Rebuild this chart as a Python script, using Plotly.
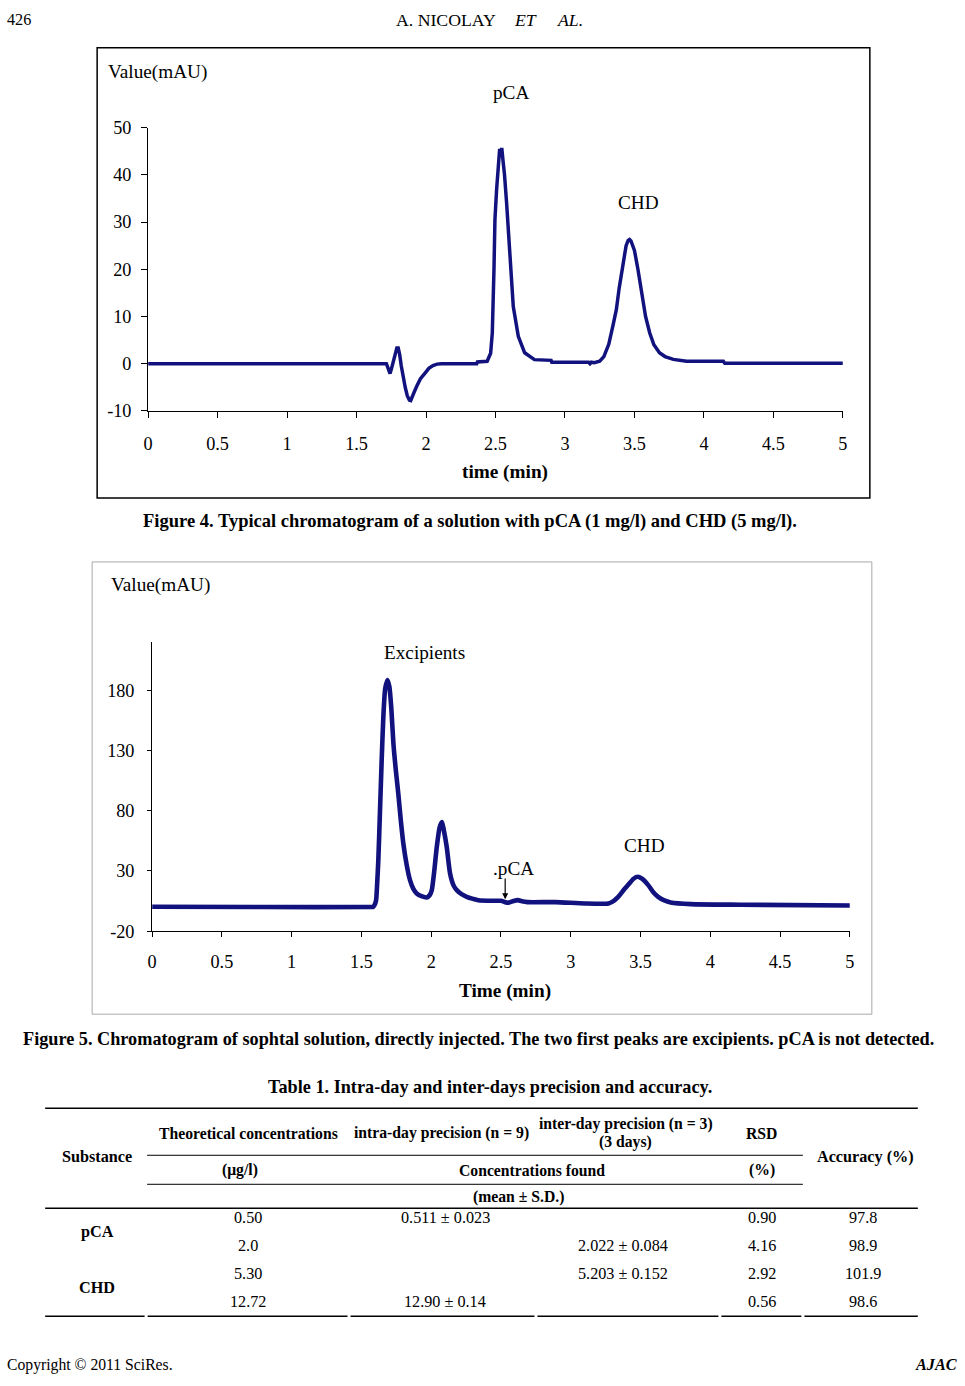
import plotly.graph_objects as go

W, H = 965, 1386
# the photographed page comes out slightly shrunk about its centre;
# these factors map intended picture pixels to figure pixels
SX, SY = 0.99, 0.985
CX, CY = W / 2, H / 2


def fx(x):
    return CX + (x - CX) / SX


def fy(y):
    return CY + (y - CY) / SY


def px(x):
    return fx(x) / W


def py(y):
    return 1 - fy(y) / H


def fs(s):
    return s / ((SX + SY) / 2)


# ---------------- Figure 4 data (time in min, value in mAU) ----------------
t4 = [0, 1.715, 1.73, 1.741, 1.752, 1.765, 1.78, 1.79, 1.80, 1.81, 1.822,
      1.835, 1.85, 1.865, 1.88, 1.89, 1.90, 1.915, 1.933, 1.96, 1.993, 2.02,
      2.05, 2.08, 2.11, 2.365, 2.37,
      2.44, 2.465, 2.477, 2.489, 2.496, 2.508, 2.52, 2.53, 2.537, 2.545,
      2.556, 2.565, 2.58, 2.604, 2.628, 2.664, 2.71, 2.78, 2.90, 2.905,
      3.17, 3.18, 3.19, 3.21, 3.25, 3.28, 3.315, 3.345, 3.37, 3.39, 3.415,
      3.44, 3.455, 3.465, 3.475, 3.49, 3.50, 3.525, 3.55, 3.58, 3.61, 3.64,
      3.68, 3.72, 3.78, 3.87, 3.875, 4.14, 4.15, 5.0]
v4 = [0, 0, -1.2, -2.1, -1.0, 0.5, 2.6, 3.3, 3.3, 2.0, -0.5,
      -2.8, -5.0, -6.8, -7.7, -7.8, -7.2, -6.0, -4.8, -3.2, -2.0, -1.0,
      -0.4, -0.1, 0, 0, 0.35,
      0.5, 2.2, 6.5, 19.9, 30.5, 36.9, 42.0, 45.5, 44.0, 45.7,
      42.5, 40.0, 34.0, 22.0, 12.1, 5.8, 2.3, 0.85, 0.7, 0.3,
      0.3, 0.0, 0.3, 0.2, 0.5, 1.5, 4.1, 8.0, 11.5, 16.0, 21.0,
      25.0, 26.1, 26.3, 26.0, 25.0, 24.0, 20.0, 15.0, 10.0, 6.5, 4.0,
      2.3, 1.5, 0.9, 0.6, 0.5, 0.5, 0.1, 0.1]

# ---------------- Figure 5 data ----------------
t5 = [0, 0.8, 1.57, 1.585, 1.597, 1.605, 1.612, 1.621, 1.633, 1.645, 1.657,
      1.670, 1.686, 1.700, 1.714, 1.729, 1.746, 1.764, 1.782, 1.80, 1.824,
      1.848, 1.872, 1.896, 1.93, 1.968, 1.99, 2.004, 2.02, 2.04, 2.06, 2.077,
      2.09, 2.111, 2.135, 2.16, 2.183, 2.22, 2.254, 2.30, 2.337, 2.44, 2.50,
      2.53, 2.55, 2.59, 2.62, 2.65, 2.69, 2.89, 3.10, 3.27, 3.30, 3.34, 3.375,
      3.41, 3.45, 3.48, 3.51, 3.555, 3.59, 3.626, 3.67, 3.716, 3.86, 4.22, 5.0]
v5 = [0.3, 0.0, 0.0, 0.2, 2.5, 5.7, 18.0, 38.9, 80.0, 121.9, 158.0,
      181.0, 188.3, 183.0, 165.0, 135.8, 114.0, 94.3, 72.0, 52.8, 35.0,
      22.3, 15.0, 11.3, 9.0, 8.0, 10.0, 14.0, 28.0, 50.0, 66.0, 70.5,
      64.0, 50.0, 27.9, 18.0, 14.0, 10.5, 8.5, 6.8, 5.7, 5.2, 5.2,
      4.0, 3.5, 5.0, 5.7, 4.8, 4.1, 4.1, 3.0, 3.0, 4.5, 8.5, 13.5,
      18.2, 23.5, 25.1, 23.5, 18.2, 12.5, 8.5, 5.5, 3.8, 2.4, 1.9, 1.3]

x_ticks = [0, 0.5, 1, 1.5, 2, 2.5, 3, 3.5, 4, 4.5, 5]
x_tick_labels = ["0", "0.5", "1", "1.5", "2", "2.5", "3", "3.5", "4", "4.5", "5"]
y4_ticks = [-10, 0, 10, 20, 30, 40, 50]
y4_tick_labels = ["-10", "0", "10", "20", "30", "40", "50"]
y5_ticks = [-20, 30, 80, 130, 180]
y5_tick_labels = ["-20", "30", "80", "130", "180"]

# ---------------- Table 1 data ----------------
substances = ["pCA", "CHD"]
theoretical = ["0.50", "2.0", "5.30", "12.72"]
intra_day = ["0.511 ± 0.023", "", "", "12.90 ± 0.14"]
inter_day = ["", "2.022 ± 0.084", "5.203 ± 0.152", ""]
rsd = ["0.90", "4.16", "2.92", "0.56"]
accuracy = ["97.8", "98.9", "101.9", "98.6"]

FONT = "Liberation Serif"
LINE = "#12127e"

fig = go.Figure()
fig.add_trace(go.Scatter(x=t4, y=v4, mode="lines", xaxis="x", yaxis="y",
                         line=dict(color=LINE, width=3.5), showlegend=False,
                         hoverinfo="skip"))
fig.add_trace(go.Scatter(x=t5, y=v5, mode="lines", xaxis="x2", yaxis="y2",
                         line=dict(color=LINE, width=4.6, shape="spline",
                                   smoothing=0.6),
                         showlegend=False, hoverinfo="skip"))

axis_common = dict(showline=True, linecolor="black", linewidth=1,
                   ticks="outside", tickcolor="black", showgrid=False,
                   zeroline=False, fixedrange=True,
                   tickfont=dict(family=FONT, size=fs(18), color="black"))

fig.update_layout(
    width=W, height=H,
    margin=dict(l=0, r=0, t=0, b=0),
    paper_bgcolor="white", plot_bgcolor="white",
    xaxis=dict(domain=[px(148), px(843)], range=[0, 5], anchor="y",
               tickvals=x_ticks, ticktext=x_tick_labels, ticklen=6,
               ticklabelstandoff=10, **axis_common),
    yaxis=dict(domain=[py(411), py(128)], range=[-10, 50], anchor="x",
               tickvals=y4_ticks, ticktext=y4_tick_labels, ticklen=6,
               ticklabelstandoff=6, **axis_common),
    xaxis2=dict(domain=[px(152), px(850)], range=[0, 5], anchor="y2",
                tickvals=x_ticks, ticktext=x_tick_labels, ticklen=5,
                ticklabelstandoff=9, **axis_common),
    yaxis2=dict(domain=[py(931), py(642)], range=[-20, 220], anchor="x2",
                tickvals=y5_ticks, ticktext=y5_tick_labels, ticklen=4,
                ticklabelstandoff=9, **axis_common),
)

shapes = []
# chart frames
shapes.append(dict(type="rect", xref="paper", yref="paper",
                   x0=px(97), x1=px(870), y0=py(498), y1=py(48),
                   line=dict(color="black", width=1.5)))
shapes.append(dict(type="rect", xref="paper", yref="paper",
                   x0=px(92), x1=px(872), y0=py(1014), y1=py(562),
                   line=dict(color="#a8a8a8", width=1)))


def hline(x0, x1, y, w=1.0):
    shapes.append(dict(type="line", xref="paper", yref="paper",
                       x0=px(x0), x1=px(x1), y0=py(y), y1=py(y),
                       line=dict(color="black", width=w)))


# table rules
hline(45, 918, 1108, 1.5)
hline(147, 803, 1155, 1.0)
hline(147, 803, 1184, 1.0)
hline(45, 918, 1208, 1.5)
col_breaks = [45, 146, 349, 536, 720, 803, 918]
for a, b in zip(col_breaks[:-1], col_breaks[1:]):
    hline(a + (0 if a == 45 else 1.5), b - (0 if b == 918 else 1.5), 1316, 1.5)

annotations = []


def text(x, y, s, size=14, bold=False, italic=False, anchor="center",
         raw_x=None, raw_y=None):
    if bold:
        s = "<b>" + s + "</b>"
    if italic:
        s = "<i>" + s + "</i>"
    xx = px(x) if raw_x is None else raw_x / W
    yy = py(y) if raw_y is None else 1 - raw_y / H
    annotations.append(dict(xref="paper", yref="paper", x=xx, y=yy,
                            text=s, showarrow=False, xanchor=anchor,
                            yanchor="middle", borderpad=0,
                            font=dict(family=FONT, size=fs(size), color="black")))


# page header / footer (kept inside the canvas)
text(0, 10, "426", 16, anchor="left", raw_x=1, raw_y=10)
text(446, 10, "A. NICOLAY", 17.5, raw_y=10)
text(526, 10, "ET", 17.5, italic=True, raw_y=10)
text(570, 10, "AL.", 17.5, italic=True, raw_y=10)
text(0, 1377, "Copyright © 2011 SciRes.", 15.5, anchor="left", raw_x=1,
     raw_y=1375)
text(965, 1377, "AJAC", 16, bold=True, italic=True, anchor="right",
     raw_x=963, raw_y=1375)

# chart 1 texts
text(107, 72, "Value(mAU)", 19, anchor="left")
text(511, 93, "pCA", 19)
text(639, 203, "CHD", 19)
text(505, 472, "time (min)", 19, bold=True)
text(470, 521, "Figure 4. Typical chromatogram of a solution with pCA (1 mg/l) and CHD (5 mg/l).", 18.3, bold=True)

# chart 2 texts
text(110, 585, "Value(mAU)", 19, anchor="left")
text(424, 653, "Excipients", 19)
text(645, 845, "CHD", 19)
text(514, 868, ".pCA", 19)
text(505, 991, "Time (min)", 19, bold=True)
annotations.append(dict(xref="x2", yref="y2", x=2.53, y=6.5, text="",
                        showarrow=True, arrowhead=2, arrowsize=1,
                        arrowwidth=1.2, arrowcolor="black", ax=0,
                        ay=-22 / SY))
text(478, 1039, "Figure 5. Chromatogram of sophtal solution, directly injected. The two first peaks are excipients. pCA is not detected.", 18, bold=True)

# table
text(490, 1087, "Table 1. Intra-day and inter-days precision and accuracy.", 18, bold=True)
HS = 15.5
text(248, 1133, "Theoretical concentrations", HS, bold=True)
text(441, 1133, "intra-day precision (n = 9)", HS, bold=True)
text(626, 1124, "inter-day precision (n = 3)", HS, bold=True)
text(626, 1142, "(3 days)", HS, bold=True)
text(762, 1133, "RSD", HS, bold=True)
text(97, 1157, "Substance", 16, bold=True)
text(866, 1157, "Accuracy (%)", 16, bold=True)
text(240, 1170, "(μg/l)", HS, bold=True)
text(532, 1170, "Concentrations found", HS, bold=True)
text(762, 1170, "(%)", HS, bold=True)
text(519, 1197, "(mean ± S.D.)", HS, bold=True)

DS = 16
row_y = [1218, 1246, 1274, 1302]
sub_y = [1232, 1288]
for s, y in zip(substances, sub_y):
    text(97, y, s, 16, bold=True)
for i, y in enumerate(row_y):
    text(248, y, theoretical[i], DS)
    if intra_day[i]:
        text(445, y, intra_day[i], DS)
    if inter_day[i]:
        text(623, y, inter_day[i], DS)
    text(762, y, rsd[i], DS)
    text(863, y, accuracy[i], DS)

fig.update_layout(shapes=shapes, annotations=annotations)
fig.write_html(
    "out.html",
    config={"displayModeBar": False, "staticPlot": True},
    post_script="document.body.style.margin='0';"
                "document.documentElement.style.overflow='hidden';"
                "document.body.style.overflow='hidden';",
)
